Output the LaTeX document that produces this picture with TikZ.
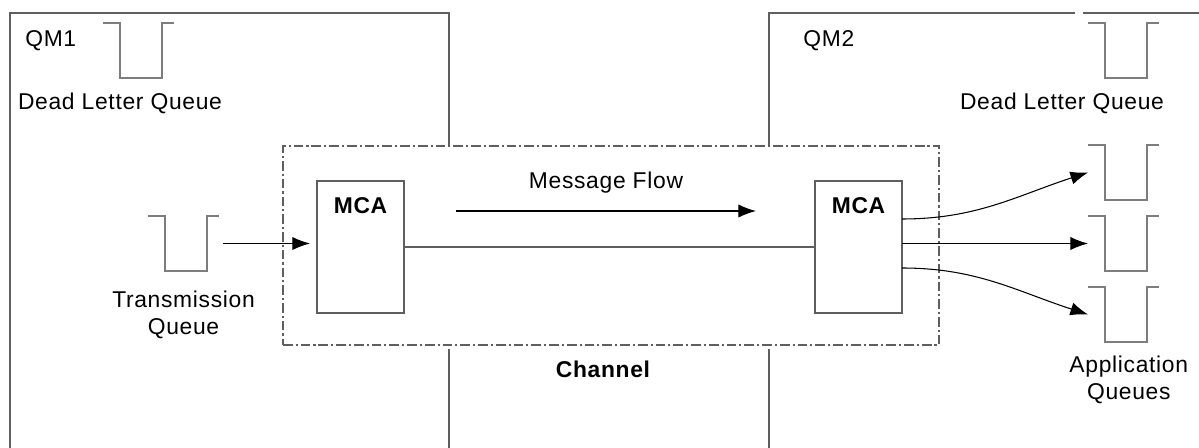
\documentclass[tikz,border=0pt]{standalone}
\usepackage{fontspec}
\setmainfont{Liberation Sans}[LetterSpace=3]
\usepackage{tikz}
\usetikzlibrary{positioning,calc,arrows.meta}

\definecolor{framegray}{RGB}{95,95,95}
\definecolor{queuegray}{RGB}{125,125,125}

\def\unitpx{0.02cm}

\tikzset{
	qmframe/.style={draw=framegray, line width=0.9pt},
	chanframe/.style={draw=framegray, line width=0.7pt, dash pattern=on 5.5pt off 1.7pt on 1.2pt off 1.7pt},
	queue/.style={rectangle, draw=none, inner sep=0pt, outer sep=0pt, minimum width=71*\unitpx, minimum height=55*\unitpx},
	queueline/.style={draw=queuegray, line width=1.1pt},
	mcabox/.style={rectangle, draw=framegray, line width=0.9pt, inner sep=0pt, outer sep=0pt, minimum width=87*\unitpx, minimum height=132*\unitpx},
	txt/.style={font=\fontsize{13}{15.3}\selectfont, inner sep=0pt, align=center},
	boldtxt/.style={txt, font=\fontsize{13}{15.3}\selectfont\bfseries},
	flowarrow/.style={-{Latex[length=10pt,width=7.5pt]}, black, line width=0.6pt}
}

% draws the cup of a queue round its node
\newcommand{\queuecup}[1]{%
	\draw[queueline] (#1.north west) -- ++(17,0) |- ($(#1.south east)+(-12,0)$) -- ($(#1.north east)+(-12,0)$) -- (#1.north east);
}

\begin{document}
\begin{tikzpicture}[x=\unitpx, y=-\unitpx]
			\useasboundingbox (0,0) rectangle (1199,448);

			% queue manager frames
			\draw[qmframe] (449,146) -- (449,13) -- (10,13) -- (10,448);
			\draw[qmframe] (449,349) -- (449,448);
			\draw[qmframe] (769,146) -- (769,13) -- (1075,13);
			\draw[qmframe] (1083,13) -- (1199,13);
			\draw[qmframe] (769,349) -- (769,448);

			\node[txt, anchor=base west] (qm1) at (25,47) {QM1};
			\node[txt, anchor=base west] (qm2) at (803,47) {QM2};

			% dead letter queues
			\node[queue] (dlq1) at (138.5,50.5) {};
			\node[queue] (dlq2) at (1123.5,50.5) {};
			\queuecup{dlq1}
			\queuecup{dlq2}
			\node[txt, anchor=base] (dlq1text) at (120,110) {Dead Letter Queue};
			\node[txt, anchor=base] (dlq2text) at (1062,110) {Dead Letter Queue};

			% channel
			\node[rectangle, chanframe, inner sep=0pt, minimum width=656*\unitpx, minimum height=199*\unitpx] (channel) at (611,245.5) {};
			\node[boldtxt, anchor=base] (chantext) at (603,378) {Channel};

			% message channel agents
			\node[mcabox, label={[boldtxt, anchor=north, yshift=-9pt]north:MCA}] (mca1) at (360.5,247) {};
			\node[mcabox, label={[boldtxt, anchor=north, yshift=-9pt]north:MCA}] (mca2) at (858.5,247) {};
			\draw[qmframe] (mca1) -- (mca2);

			\coordinate (flowstart) at (456,211);
			\coordinate (flowend) at (756,211);
			\draw[flowarrow] (flowstart) -- node[txt, anchor=base, yshift=13pt] (flowtext) {Message Flow} (flowend);

			% transmission queue
			\node[queue] (tq) at (183.5,243.5) {};
			\queuecup{tq}
			\node[txt, below=11pt of tq] (tqtext) {Transmission\\Queue};
			\draw[flowarrow, shorten <=2pt, shorten >=4pt] (tq.east) -- (tq.east -| mca1.west);

			% application queues
			\node[queue] (aq1) at (1123.5,172.5) {};
			\node[queue] (aq2) at (1123.5,243.5) {};
			\node[queue] (aq3) at (1123.5,314.5) {};
			\queuecup{aq1}
			\queuecup{aq2}
			\queuecup{aq3}
			\node[txt, below=8pt of aq3, xshift=3pt] (aqtext) {Application\\Queues};

			\draw[flowarrow] ($(mca2.east)+(0,-28)$) to[out=0, in=198] (aq1.west);
			\draw[flowarrow] (mca2.east |- aq2.west) -- (aq2.west);
			\draw[flowarrow] ($(mca2.east)+(0,21)$) to[out=0, in=162] (aq3.west);

		\end{tikzpicture}
\end{document}
